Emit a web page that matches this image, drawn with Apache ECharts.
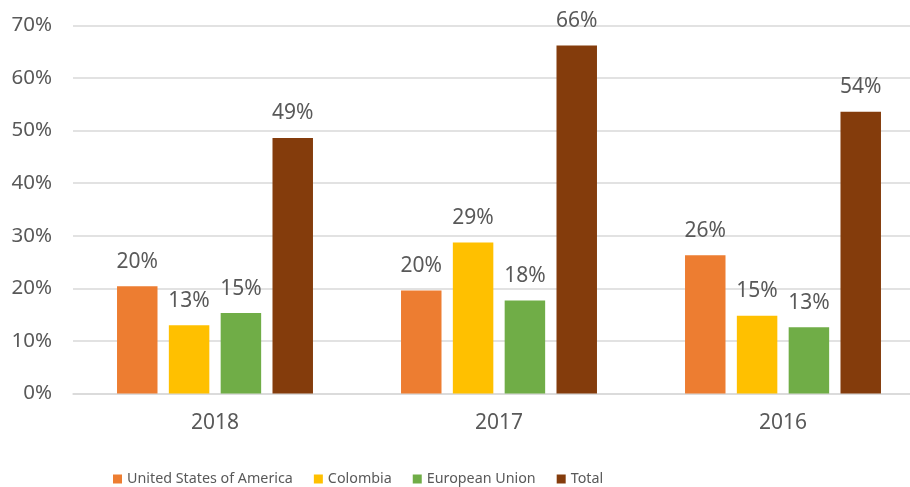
<!DOCTYPE html>
<html>
<head>
<meta charset="utf-8">
<script src="https://cdn.jsdelivr.net/npm/echarts@6/dist/echarts.min.js"></script>
<style>
html,body{margin:0;padding:0;background:#fff;overflow:hidden;}
#c{width:925px;height:487px;}
</style>
</head>
<body>
<div id="c"></div>
<script>
const categories = ['2018', '2017', '2016'];
const usa = [20.4, 19.6, 26.3];
const colombia = [13.0, 28.7, 14.8];
const eu = [15.3, 17.7, 12.6];
const total = [48.6, 66.2, 53.6];
const yTicks = [0, 10, 20, 30, 40, 50, 60, 70];

const seriesNames = ['United States of America', 'Colombia', 'European Union', 'Total'];
const seriesData = [usa, colombia, eu, total];
const colors = ['#ED7D31', '#FFC000', '#70AD47', '#843C0C'];

const chart = echarts.init(document.getElementById('c'), null, {renderer: 'canvas'});
const labelFont = '"Noto Sans", "Open Sans", sans-serif';

chart.setOption({
  animation: false,
  backgroundColor: '#ffffff',
  grid: {left: 73, right: 0, top: 25.5, bottom: 93.5, containLabel: false},
  legend: {
    data: seriesNames,
    left: 108,
    top: 467,
    itemWidth: 9,
    itemHeight: 9,
    itemGap: 21,
    icon: 'rect',
    textStyle: {color: '#595959', fontSize: 14.3, fontFamily: '"Noto Sans", sans-serif'}
  },
  xAxis: {
    type: 'category',
    data: categories,
    axisLine: {show: true, lineStyle: {color: '#d9d9d9', width: 1.5}},
    axisTick: {show: false},
    axisLabel: {color: '#595959', fontSize: 21, fontFamily: labelFont, margin: 19}
  },
  yAxis: {
    type: 'value',
    min: yTicks[0],
    max: yTicks[yTicks.length - 1],
    interval: 10,
    axisLine: {show: false},
    axisTick: {show: false},
    splitLine: {lineStyle: {color: '#d9d9d9', width: 1.5}},
    axisLabel: {color: '#595959', fontSize: 20.5, fontFamily: labelFont, margin: 21, formatter: v => v + '%'}
  },
  series: seriesNames.map((name, i) => ({
    name: name,
    type: 'bar',
    data: seriesData[i],
    barGap: '28%',
    barCategoryGap: '31%',
    itemStyle: {color: colors[i]},
    label: {
      show: true,
      position: 'top',
      distance: 14,
      color: '#595959',
      fontSize: 21,
      fontFamily: labelFont,
      formatter: p => Math.round(p.value) + '%'
    }
  }))
});
</script>
</body>
</html>
